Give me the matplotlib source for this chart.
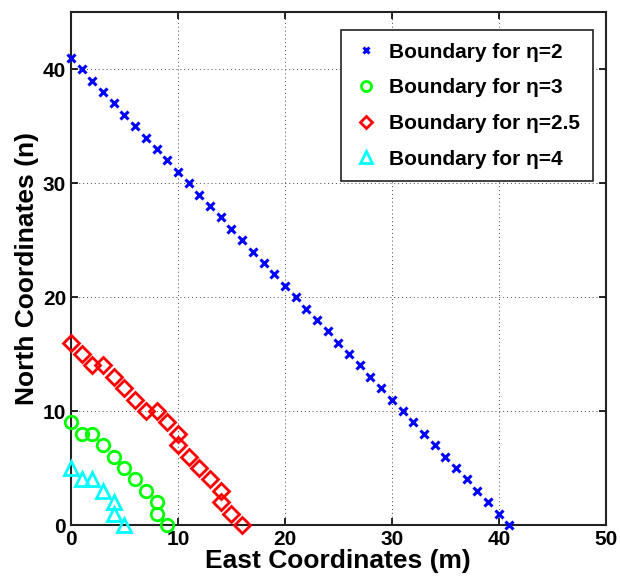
import matplotlib
matplotlib.use('Agg')
import matplotlib.pyplot as plt

plt.rcParams['font.family'] = ['Liberation Sans', 'DejaVu Sans']
plt.rcParams['font.weight'] = 'bold'

# boundary points (East, North)
east_eta2 = [0, 1, 2, 3, 4, 5, 6, 7, 8, 9, 10, 11, 12, 13, 14, 15, 16, 17, 18, 19, 20,
             21, 22, 23, 24, 25, 26, 27, 28, 29, 30, 31, 32, 33, 34, 35, 36, 37, 38, 39, 40, 41]
north_eta2 = [41, 40, 39, 38, 37, 36, 35, 34, 33, 32, 31, 30, 29, 28, 27, 26, 25, 24, 23, 22, 21,
              20, 19, 18, 17, 16, 15, 14, 13, 12, 11, 10, 9, 8, 7, 6, 5, 4, 3, 2, 1, 0]

east_eta3 = [0, 1, 2, 3, 4, 5, 6, 7, 8, 8, 9]
north_eta3 = [9, 8, 8, 7, 6, 5, 4, 3, 2, 1, 0]

east_eta25 = [0, 1, 2, 3, 4, 5, 6, 7, 8, 9, 10, 10, 11, 12, 13, 14, 14, 15, 16]
north_eta25 = [16, 15, 14, 14, 13, 12, 11, 10, 10, 9, 8, 7, 6, 5, 4, 3, 2, 1, 0]

east_eta4 = [0, 1, 2, 3, 4, 4, 5]
north_eta4 = [5, 4, 4, 3, 2, 1, 0]

fig = plt.figure(figsize=(6.2, 5.84), dpi=100)
ax = fig.add_axes([0.1145, 0.101, 0.8625, 0.878])

ax.plot(east_eta2, north_eta2, 'x', color='#0000ff', ms=6, mew=2.2, clip_on=False, zorder=3,
        label='Boundary for η=2')
ax.plot(east_eta3, north_eta3, 'o', color='#00ff00', mfc='none', ms=9, mew=2, clip_on=False, zorder=3,
        label='Boundary for η=3')
ax.plot(east_eta25, north_eta25, 'D', color='#ff0000', mfc='none', ms=8, mew=2, clip_on=False, zorder=3,
        label='Boundary for η=2.5')
ax.plot(east_eta4, north_eta4, '^', color='#00ffff', mfc='none', ms=10, mew=2, clip_on=False, zorder=3,
        label='Boundary for η=4')

ax.set_xlim(0, 50)
ax.set_ylim(0, 45)
ax.set_xticks([0, 10, 20, 30, 40, 50])
ax.set_yticks([0, 10, 20, 30, 40])
ax.grid(True, linestyle=(0, (1, 3)), color='#444444', linewidth=0.7)
ax.tick_params(labelsize=15, direction='in', length=5, width=1.2, top=True, right=True)
for s in ax.spines.values():
    s.set_linewidth(1.5)
    s.set_color('#222222')

ax.set_xlabel('East Coordinates (m)', fontsize=19, fontweight='bold', labelpad=0)
ax.set_ylabel('North Coordinates (n)', fontsize=19, fontweight='bold', labelpad=3)

leg = ax.legend(loc='upper right', prop={'weight': 'bold', 'size': 15},
                fancybox=False, edgecolor='#222222', framealpha=1, borderpad=0.6,
                labelspacing=0.8, handletextpad=0.5, handlelength=1.2, markerscale=0.8,
                borderaxespad=0, bbox_to_anchor=(0.976, 0.965))
leg.get_frame().set_linewidth(1.2)

fig.savefig('out.png', dpi=100)
